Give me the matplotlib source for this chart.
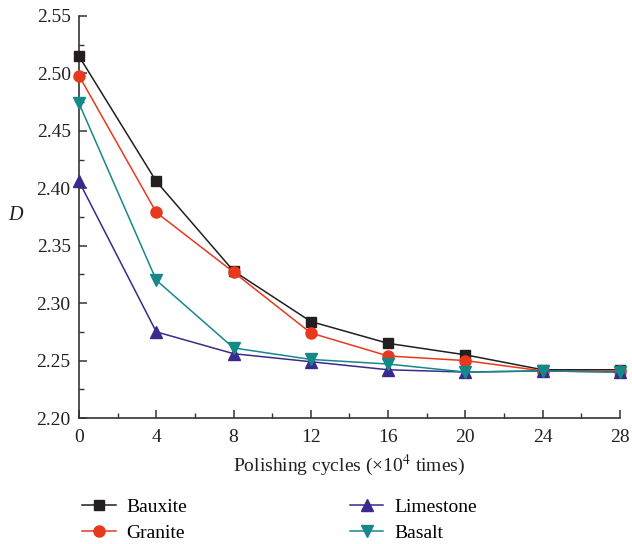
import numpy as np
import matplotlib.pyplot as plt
from matplotlib.ticker import MultipleLocator

plt.rcParams['font.family'] = ['Liberation Serif', 'DejaVu Serif']
plt.rcParams['mathtext.fontset'] = 'stix'

cycles = [0, 4, 8, 12, 16, 20, 24, 28]
bauxite = [2.515, 2.406, 2.328, 2.284, 2.265, 2.255, 2.242, 2.242]
granite = [2.498, 2.379, 2.327, 2.274, 2.254, 2.250, 2.241, 2.241]
limestone = [2.406, 2.275, 2.256, 2.249, 2.242, 2.240, 2.241, 2.240]
basalt = [2.474, 2.320, 2.261, 2.251, 2.247, 2.240, 2.241, 2.240]

fig = plt.figure(figsize=(6.32, 5.44), dpi=100)
ax = fig.add_axes([0.125, 0.2316, 0.856, 0.739])

ax.plot(cycles, bauxite, color='#231f20', marker='s', ms=7, lw=1.1, label='Bauxite', clip_on=False, zorder=3)
ax.plot(cycles, granite, color='#e8391e', marker='o', ms=8, lw=1.1, label='Granite', clip_on=False, zorder=3)
ax.plot(cycles, limestone, color='#3b2a8c', marker='^', ms=8, lw=1.1, label='Limestone', clip_on=False, zorder=3)
ax.plot(cycles, basalt, color='#15898a', marker='v', ms=8, lw=1.1, label='Basalt', clip_on=False, zorder=3)

ax.set_xlim(0, 28)
ax.set_ylim(2.20, 2.55)
ax.xaxis.set_major_locator(MultipleLocator(4))
ax.xaxis.set_minor_locator(MultipleLocator(2))
ax.yaxis.set_major_locator(MultipleLocator(0.05))
ax.yaxis.set_minor_locator(MultipleLocator(0.025))
ax.yaxis.set_major_formatter(plt.FormatStrFormatter('%.2f'))

for s in ['top', 'right']:
    ax.spines[s].set_visible(False)
for s in ['left', 'bottom']:
    ax.spines[s].set_color('#333333')
    ax.spines[s].set_linewidth(1.2)
ax.tick_params(which='both', direction='in', color='#333333', labelsize=14, labelcolor='#231f20')
ax.tick_params(which='major', length=6, width=1.1)
ax.tick_params(axis='x', which='major', pad=8)
ax.tick_params(axis='y', which='major', pad=6)
ax.tick_params(which='minor', length=3.5, width=1.0)

ax.set_xlabel('Polishing cycles (×10$^4$ times)', fontsize=14, color='#231f20', labelpad=5)
ax.set_ylabel('D', fontsize=14.5, style='italic', rotation=0, color='#231f20')
ax.yaxis.set_label_coords(-0.118, 0.48)

fig.legend(loc='lower left', bbox_to_anchor=(0.112, -0.018), ncol=2, frameon=False,
           fontsize=14, handlelength=1.7, handletextpad=0.55, columnspacing=8.4,
           labelspacing=0.45, borderaxespad=0.2)

fig.savefig('out.png', dpi=100)
